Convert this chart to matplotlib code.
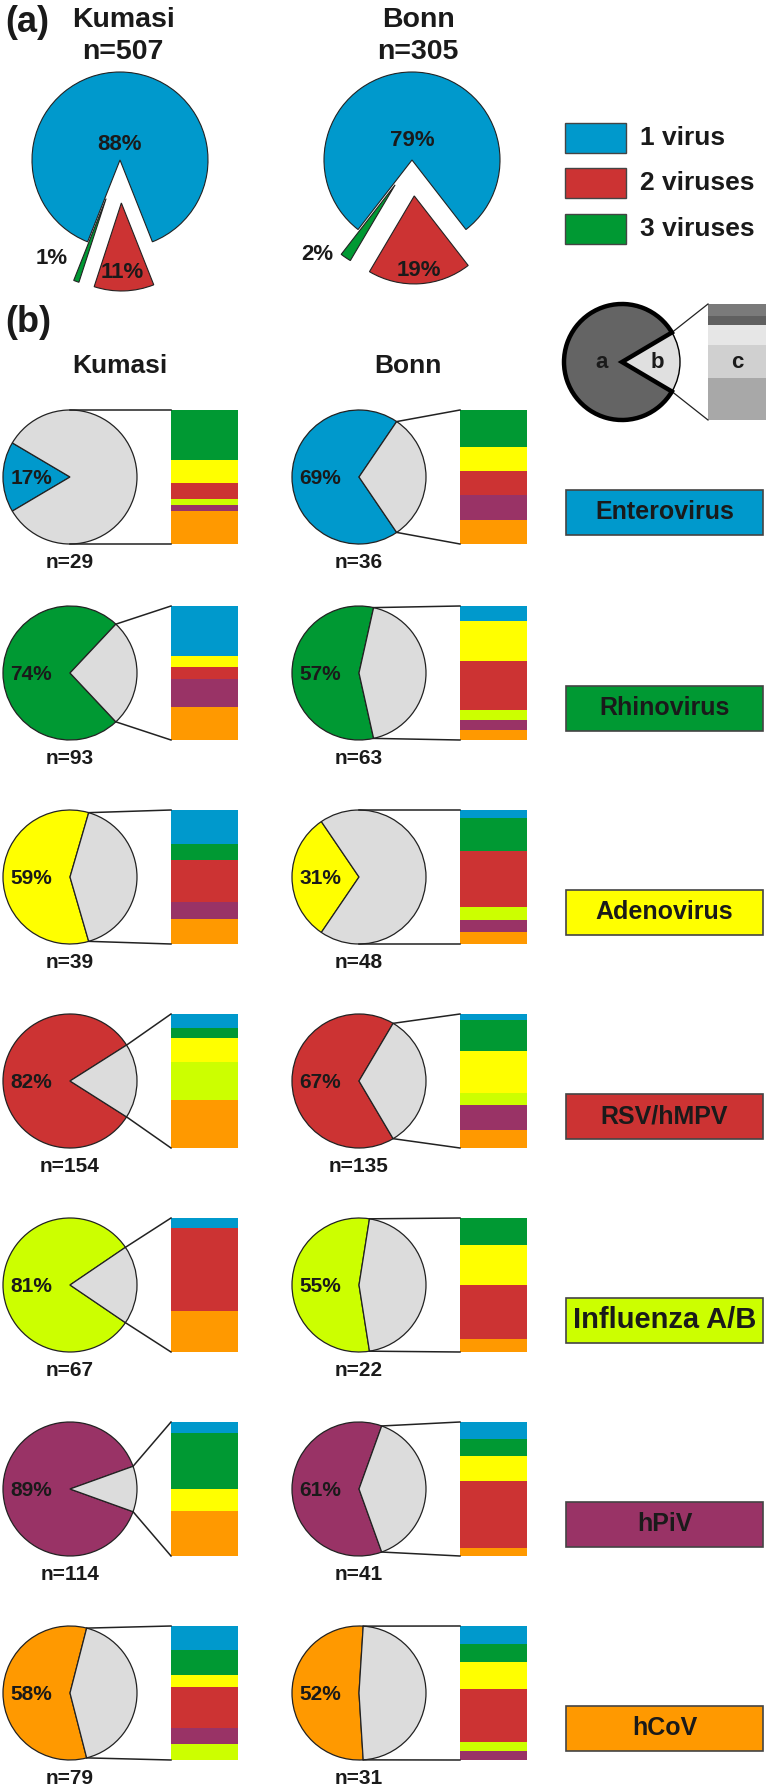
import matplotlib
matplotlib.use('Agg')
import numpy as np
import matplotlib.pyplot as plt
from matplotlib.patches import Rectangle

plt.rcParams['font.family'] = ['Liberation Sans', 'DejaVu Sans']
plt.rcParams['font.weight'] = 'bold'

W, H = 767, 1788

virus_names = ['Enterovirus', 'Rhinovirus', 'Adenovirus', 'RSV/hMPV',
               'Influenza A/B', 'hPiV', 'hCoV']
virus_colors = {'Enterovirus': '#0099CC', 'Rhinovirus': '#009933',
                'Adenovirus': '#FFFF00', 'RSV/hMPV': '#CC3333',
                'Influenza A/B': '#CCFF00', 'hPiV': '#993366',
                'hCoV': '#FF9900'}
rest_color = '#DCDCDC'

# (a) number of viruses detected per positive sample
sites = ['Kumasi', 'Bonn']
site_n = [507, 305]
count_labels = ['1 virus', '2 viruses', '3 viruses']
count_colors = ['#0099CC', '#CC3333', '#009933']
kumasi_counts = [88, 11, 1]
bonn_counts = [79, 19, 2]

# (b) share of single detections for each virus
kumasi_single = [17, 74, 59, 82, 81, 89, 58]
kumasi_n = [29, 93, 39, 154, 67, 114, 79]
bonn_single = [69, 57, 31, 67, 55, 61, 52]
bonn_n = [36, 63, 48, 135, 22, 41, 31]

# co-detected viruses, top to bottom of each bar
kumasi_codet = [
    [('Rhinovirus', 9), ('Adenovirus', 4), ('RSV/hMPV', 3), ('Influenza A/B', 1), ('hPiV', 1), ('hCoV', 6)],
    [('Enterovirus', 9), ('Adenovirus', 2), ('RSV/hMPV', 2), ('hPiV', 5), ('hCoV', 6)],
    [('Enterovirus', 4), ('Rhinovirus', 2), ('RSV/hMPV', 5), ('hPiV', 2), ('hCoV', 3)],
    [('Enterovirus', 3), ('Rhinovirus', 2), ('Adenovirus', 5), ('Influenza A/B', 8), ('hCoV', 10)],
    [('Enterovirus', 1), ('RSV/hMPV', 8), ('hCoV', 4)],
    [('Enterovirus', 1), ('Rhinovirus', 5), ('Adenovirus', 2), ('hCoV', 4)],
    [('Enterovirus', 6), ('Rhinovirus', 6), ('Adenovirus', 3), ('RSV/hMPV', 10), ('hPiV', 4), ('Influenza A/B', 4)],
]
bonn_codet = [
    [('Rhinovirus', 3), ('Adenovirus', 2), ('RSV/hMPV', 2), ('hPiV', 2), ('hCoV', 2)],
    [('Enterovirus', 3), ('Adenovirus', 8), ('RSV/hMPV', 10), ('Influenza A/B', 2), ('hPiV', 2), ('hCoV', 2)],
    [('Enterovirus', 2), ('Rhinovirus', 8), ('RSV/hMPV', 14), ('Influenza A/B', 3), ('hPiV', 3), ('hCoV', 3)],
    [('Enterovirus', 2), ('Rhinovirus', 10), ('Adenovirus', 14), ('Influenza A/B', 4), ('hPiV', 8), ('hCoV', 6)],
    [('Rhinovirus', 2), ('Adenovirus', 3), ('RSV/hMPV', 4), ('hCoV', 1)],
    [('Enterovirus', 2), ('Rhinovirus', 2), ('Adenovirus', 3), ('RSV/hMPV', 8), ('hCoV', 1)],
    [('Enterovirus', 2), ('Rhinovirus', 2), ('Adenovirus', 3), ('RSV/hMPV', 6), ('Influenza A/B', 1), ('hPiV', 1)],
]

# schematic key
key_parts = [83, 17]
key_bar = [12, 8, 20, 32, 41]
key_bar_colors = ['#7A7A7A', '#606060', '#E6E6E6', '#D0D0D0', '#A8A8A8']

txt = '#1a1a1a'
edge = '#222222'


def Y(y):
    return H - y


fig = plt.figure(figsize=(W / 100, H / 100), dpi=100)
ax = fig.add_axes([0, 0, 1, 1])

# ---------------- (a) ----------------
ax.text(27, Y(22), '(a)', fontsize=26, ha='center', va='center', color=txt)
a_cx = [120, 412]
a_cy = 160
a_r = 88
# offsets in pixels (1 virus, 3 viruses, 2 viruses)
a_explode = [[0, 41, 43], [0, 30, 36]]
a_title_x = [123, 418]
# label offsets (1 virus, 2 viruses, 3 viruses) from pie centre
a_lab_off = [[(0, -16), (2, 113), (-68, 98)], [(0, -19), (7, 110), (-95, 95)]]

for i, (site, counts) in enumerate(zip(sites, [kumasi_counts, bonn_counts])):
    ax.text(a_title_x[i], Y(20), site, fontsize=20.5, ha='center', va='center', color=txt)
    ax.text(a_title_x[i], Y(52), f'n={site_n[i]}', fontsize=20.5, ha='center', va='center', color=txt)
    vals = [counts[0], counts[2], counts[1]]
    cols = [count_colors[0], count_colors[2], count_colors[1]]
    ax.pie(vals, colors=cols, startangle=90 - counts[0] * 1.8,
           explode=a_explode[i], center=(a_cx[i], Y(a_cy)), radius=a_r,
           wedgeprops=dict(edgecolor=edge, linewidth=0.8))
    for k in range(3):
        dx, dy = a_lab_off[i][k]
        ax.text(a_cx[i] + dx, Y(a_cy + dy), f'{counts[k]}%', fontsize=16,
                ha='center', va='center', color=txt)

for k, lab in enumerate(count_labels):
    yb = 123 + k * 45.3
    ax.add_patch(Rectangle((565, Y(yb + 30)), 61, 30, facecolor=count_colors[k],
                           edgecolor='#444444', linewidth=1))
    ax.text(640, Y(yb + 15), lab, fontsize=19, ha='left', va='center', color=txt)

# ---------------- (b) ----------------
ax.text(28, Y(323), '(b)', fontsize=26, ha='center', va='center', color=txt)
ax.text(120, Y(366), 'Kumasi', fontsize=19, ha='center', va='center', color=txt)
ax.text(408, Y(366), 'Bonn', fontsize=19, ha='center', va='center', color=txt)

# key: a = single detections, b = co-detections, c = co-detected viruses
kx, ky, kr = 622, 362, 58
kw = ax.pie(key_parts, colors=['#646464', '#E0E0E0'], startangle=key_parts[1] * 1.8,
            center=(kx, Y(ky)), radius=kr,
            wedgeprops=dict(edgecolor='black', linewidth=1))[0]
kw[0].set_linewidth(3.2)
kw[0].set_zorder(3)
kbx, kbw = 708, 58
top = ky - kr
tot = sum(key_bar)
for v, c in zip(key_bar, key_bar_colors):
    h = v / tot * 2 * kr
    ax.bar(kbx + kbw / 2, h, width=kbw, bottom=Y(top + h), color=c, linewidth=0)
    top += h
ang = np.deg2rad(key_parts[1] * 1.8)
for s in (1, -1):
    ax.plot([kx + kr * np.cos(ang), kbx], [Y(ky - s * kr * np.sin(ang)), Y(ky - s * kr)],
            color=edge, linewidth=0.9)
ax.text(602, Y(363), 'a', fontsize=16, ha='center', va='center', color=txt, zorder=5)
ax.text(657, Y(363), 'b', fontsize=16, ha='center', va='center', color=txt, zorder=5)
ax.text(737, Y(363), 'c', fontsize=16, ha='center', va='center', color=txt, zorder=5)

row_y = [477, 673, 877, 1081, 1285, 1489, 1693]
col_x = [70, 359]
r = 67
bar_w = 67
bar_gap = 101

for j, (singles, ns, codet) in enumerate([(kumasi_single, kumasi_n, kumasi_codet),
                                          (bonn_single, bonn_n, bonn_codet)]):
    cx = col_x[j]
    for i, name in enumerate(virus_names):
        cy = row_y[i]
        p = singles[i]
        ax.pie([p, 100 - p], colors=[virus_colors[name], rest_color],
               startangle=180 - p * 1.8, center=(cx, Y(cy)), radius=r,
               wedgeprops=dict(edgecolor=edge, linewidth=0.9))
        ax.text(cx - 39, Y(cy + 1), f'{p}%', fontsize=15, ha='center', va='center', color=txt)
        ax.text(cx, Y(cy + 86), f'n={ns[i]}', fontsize=15, ha='center', va='center', color=txt)

        # stacked bar of co-detected viruses
        bx = cx + bar_gap
        tot = sum(v for _, v in codet[i])
        top = cy - r
        for vname, v in codet[i]:
            h = v / tot * 2 * r
            ax.bar(bx + bar_w / 2, h, width=bar_w, bottom=Y(top + h),
                   color=virus_colors[vname], linewidth=0)
            top += h

        # connector lines from the grey wedge to the bar
        a = np.deg2rad(min(180 - p * 1.8, 90))
        for s in (1, -1):
            ax.plot([cx + r * np.cos(a), bx], [Y(cy - s * r * np.sin(a)), Y(cy - s * r)],
                    color=edge, linewidth=1.1)

# virus name boxes
for i, name in enumerate(virus_names):
    yc = row_y[i] + 35
    ax.add_patch(Rectangle((566, Y(yc + 22.5)), 197, 45, facecolor=virus_colors[name],
                           edgecolor='#444444', linewidth=1.2))
    fs = 21 if name == 'Influenza A/B' else 18
    ax.text(664.5, Y(yc), name, fontsize=fs, ha='center', va='center', color=txt)

ax.set_xlim(0, W)
ax.set_ylim(0, H)
ax.axis('off')

fig.savefig('out.png', dpi=100, facecolor='white')
